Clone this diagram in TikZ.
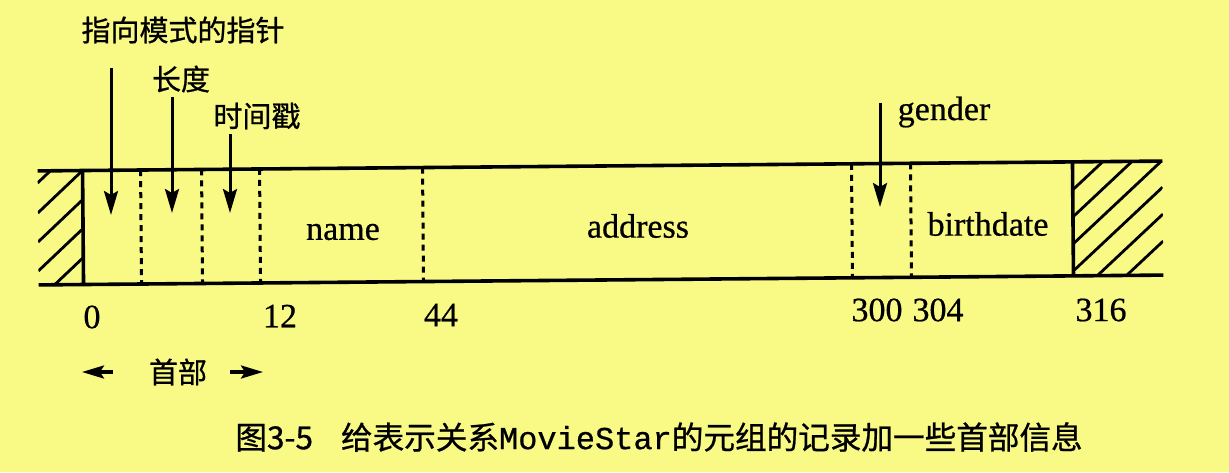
\documentclass[tikz,border=0pt]{standalone}
\usepackage{fontspec}
\setmainfont{Liberation Serif}[FakeBold=0.6]
\setmonofont{Liberation Mono}[FakeBold=0.6]
\newfontfamily\cjk{Noto Sans CJK SC}[FakeBold=0.8]
\usepackage{tikz}
\usetikzlibrary{arrows.meta,positioning}
\definecolor{PaperYellow}{RGB}{249,249,134}
\tikzset{
  recline/.style={line width=1.8pt},
  fieldsep/.style={line width=1.5pt, dash pattern=on 3pt off 2.5pt},
  hatchline/.style={line width=1.4pt},
  ptrarrow/.style={line width=1.5pt, -{Stealth[length=12pt,width=7pt,inset=2pt]}},
  hdrarrow/.style={line width=1.6pt, -{Stealth[length=11pt,width=6.5pt,inset=2pt]}},
  fieldname/.style={font=\fontsize{17}{17}\selectfont, inner sep=0pt},
  offsetnum/.style={font=\fontsize{17}{17}\selectfont, inner sep=0pt},
  cjklabel/.style={font=\cjk\fontsize{14.5}{15}\selectfont, inner sep=0pt},
}

\begin{document}
\begin{tikzpicture}[x=0.5pt, y=-0.5pt]
      \fill[PaperYellow] (0,0) rectangle (1229,472);
      \useasboundingbox (0,0) rectangle (1229,472);

      % the record, a little skewed as in the scan
      \begin{scope}[rotate around={0.5:(600,223)}]
        \draw[recline] (38,166) -- (1163,166);
        \draw[recline] (38,280) -- (1163,280);
        \draw[recline] (83,166) -- (83,280);
        \draw[recline] (1073,166) -- (1073,280);
        \foreach \x in {141,202,260,423,852,911} {
          \draw[fieldsep] (\x,166) -- (\x,280);
        }
        \begin{scope}
          \clip (38,166) rectangle (83,280);
          \foreach \c in {178,208,237,266,295} {
            \draw[hatchline] (38,\c) -- (83,\c-42);
          }
        \end{scope}
        \begin{scope}
          \clip (1073,166) rectangle (1163,280);
          \foreach \c in {194,221,248,275,302,329} {
            \draw[hatchline] (1073,\c) -- (1163,\c-83);
          }
        \end{scope}
      \end{scope}

      \node[fieldname] (fname) at (343,232) {name};
      \node[fieldname] (faddr) at (638,226) {address};
      \node[fieldname] (fbirth) at (988,224) {birthdate};

      \foreach \x/\val/\y in {92/0/317,280/12/316,441/44/315,877/300/310,938/304/310,1101/316/310} {
        \node[offsetnum] (off\val) at (\x,\y) {\val};
      }

      \node[cjklabel] (ptrlbl) at (183,30) {指向模式的指针};
      \node[cjklabel] (lenlbl) at (181,79) {长度};
      \node[cjklabel] (tslbl) at (257,116) {时间戳};
      \node[fieldname] (genlbl) at (944,112) {gender};

      \coordinate (ptrtop) at (111,68);
      \coordinate (ptrtip) at (111,215);
      \coordinate (lentop) at (172,97);
      \coordinate (lentip) at (172,213);
      \coordinate (tstop) at (230,134);
      \coordinate (tstip) at (230,213);
      \coordinate (gentop) at (880,103);
      \coordinate (gentip) at (880,207);
      \foreach \f in {ptr,len,ts,gen} {
        \draw[ptrarrow] (\f top) -- (\f tip);
      }

      \node[cjklabel] (hdrlbl) at (178,372) {首部};
      \coordinate (hdrLa) at (113,372);
      \coordinate (hdrLb) at (82,372);
      \coordinate (hdrRa) at (230,372);
      \coordinate (hdrRb) at (263,372);
      \draw[hdrarrow] (hdrLa) -- (hdrLb);
      \draw[hdrarrow] (hdrRa) -- (hdrRb);

      \node[inner sep=0pt, anchor=west] (caption) at (235,437)
        {{\cjk\fontsize{15.8}{16}\selectfont 图3-5\hspace{14pt}给表示关系}{\ttfamily\fontsize{16}{16}\selectfont MovieStar}{\cjk\fontsize{15.8}{16}\selectfont 的元组的记录加一些首部信息}};
    \end{tikzpicture}
\end{document}
